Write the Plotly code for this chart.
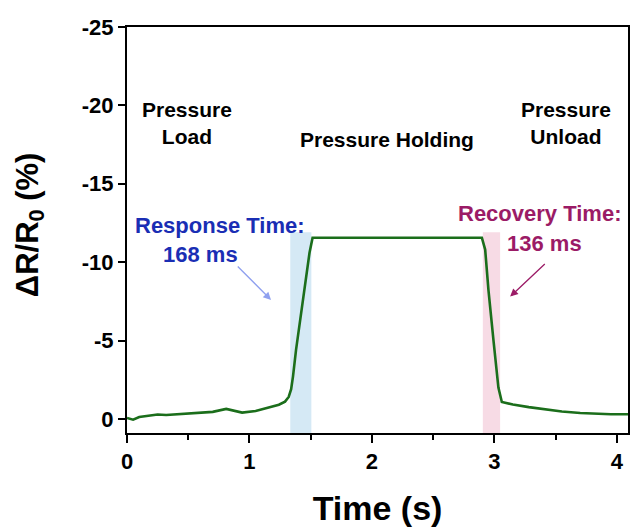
import plotly.graph_objects as go

# Data
time_s = [0.00, 0.05, 0.10, 0.17, 0.25, 0.32, 0.45, 0.59, 0.70, 0.81, 0.86, 0.94,
          1.05, 1.14, 1.24, 1.29, 1.32, 1.34, 1.355, 1.38, 1.41, 1.45, 1.49, 1.515,
          2.897, 2.924, 2.951, 2.992, 3.032, 3.060, 3.15, 3.28, 3.42, 3.55,
          3.70, 3.82, 3.95, 4.09]
dR_R0 = [-0.06, 0.05, -0.12, -0.18, -0.28, -0.25, -0.32, -0.38, -0.45, -0.64, -0.55, -0.40,
         -0.50, -0.70, -0.90, -1.10, -1.40, -1.90, -2.70, -4.40, -6.10, -8.40, -10.60, -11.56,
         -11.56, -10.80, -8.20, -5.00, -2.00, -1.08, -0.92, -0.75, -0.60, -0.47,
         -0.38, -0.32, -0.30, -0.30]

response_band = [1.333, 1.505]
recovery_band = [2.905, 3.046]
band_top = -11.9

x_ticks = [0, 1, 2, 3, 4]
x_labels = ["0", "1", "2", "3", "4"]
y_ticks = [-25, -20, -15, -10, -5, 0]
y_labels = ["-25", "-20", "-15", "-10", "-5", "0"]

FONT = "Liberation Sans, Arial, sans-serif"
GREEN = "#1b6e1b"
BLUE_TXT = "#1a2eb4"
MAG_TXT = "#9b1b66"

fig = go.Figure()

fig.add_trace(go.Scatter(x=time_s, y=dR_R0, mode="lines",
                         line=dict(color=GREEN, width=2.6),
                         showlegend=False, hoverinfo="skip"))

fig.add_shape(type="rect", xref="x", yref="y", x0=response_band[0], x1=response_band[1],
              y0=0.9, y1=band_top, fillcolor="#d5e9f5", line_width=0, layer="below")
fig.add_shape(type="rect", xref="x", yref="y", x0=recovery_band[0], x1=recovery_band[1],
              y0=0.9, y1=band_top, fillcolor="#f7dbe5", line_width=0, layer="below")

def label(x, y, text, color="black", size=21):
    fig.add_annotation(x=x, y=y, xref="x", yref="y", text=f"<b>{text}</b>",
                       showarrow=False, font=dict(family=FONT, size=size, color=color),
                       align="center")

label(0.49, -18.9, "Pressure<br>Load")
label(2.12, -17.8, "Pressure Holding")
label(3.585, -18.85, "Pressure<br>Unload")
label(0.76, -12.35, "Response Time:", BLUE_TXT, 22)
label(0.60, -10.5, "168 ms", BLUE_TXT, 22)
label(3.37, -13.1, "Recovery Time:", MAG_TXT, 22)
label(3.41, -11.2, "136 ms", MAG_TXT, 22)

fig.add_annotation(x=1.176, y=-7.59, ax=0.892, ay=-9.82, xref="x", yref="y",
                   axref="x", ayref="y", text="", showarrow=True, arrowhead=2,
                   arrowsize=1.2, arrowwidth=1.3, arrowcolor="#8fa0ef")
fig.add_annotation(x=3.128, y=-7.8, ax=3.423, ay=-9.97, xref="x", yref="y",
                   axref="x", ayref="y", text="", showarrow=True, arrowhead=2,
                   arrowsize=1.2, arrowwidth=1.3, arrowcolor="#9b1b66")

# y-axis title as a rotated annotation (to place it freely in the margin)
fig.add_annotation(x=0, y=0.512, xref="paper", yref="paper", xshift=-97,
                   text="<b>ΔR/R<sub>0</sub> (%)</b>", textangle=-90, showarrow=False,
                   xanchor="center", yanchor="middle",
                   font=dict(family=FONT, size=31, color="black"))

axis_common = dict(showline=True, linecolor="black", linewidth=2, mirror=True,
                   showgrid=False, zeroline=False, ticks="outside", tickwidth=1.8,
                   tickcolor="black",
                   tickfont=dict(family=FONT, size=22, color="black"))

fig.update_xaxes(range=[0, 4.09], tickvals=x_ticks,
                 ticktext=[f"<b>{t}</b>" for t in x_labels], ticklen=8,
                 minor=dict(dtick=0.5, ticks="outside", ticklen=5, tickwidth=1.5,
                            tickcolor="black", showgrid=False),
                 title=dict(text="<b>Time (s)</b>", standoff=24,
                            font=dict(family=FONT, size=34, color="black")),
                 **axis_common)
fig.update_yaxes(range=[0.9, -25], tickvals=y_ticks,
                 ticktext=[f"<b>{t}</b>" for t in y_labels], ticklen=7,
                 **axis_common)

fig.update_layout(width=633, height=527, margin=dict(l=127, r=3, t=27, b=94),
                  plot_bgcolor="white", paper_bgcolor="white")

fig.write_html("out.html")
